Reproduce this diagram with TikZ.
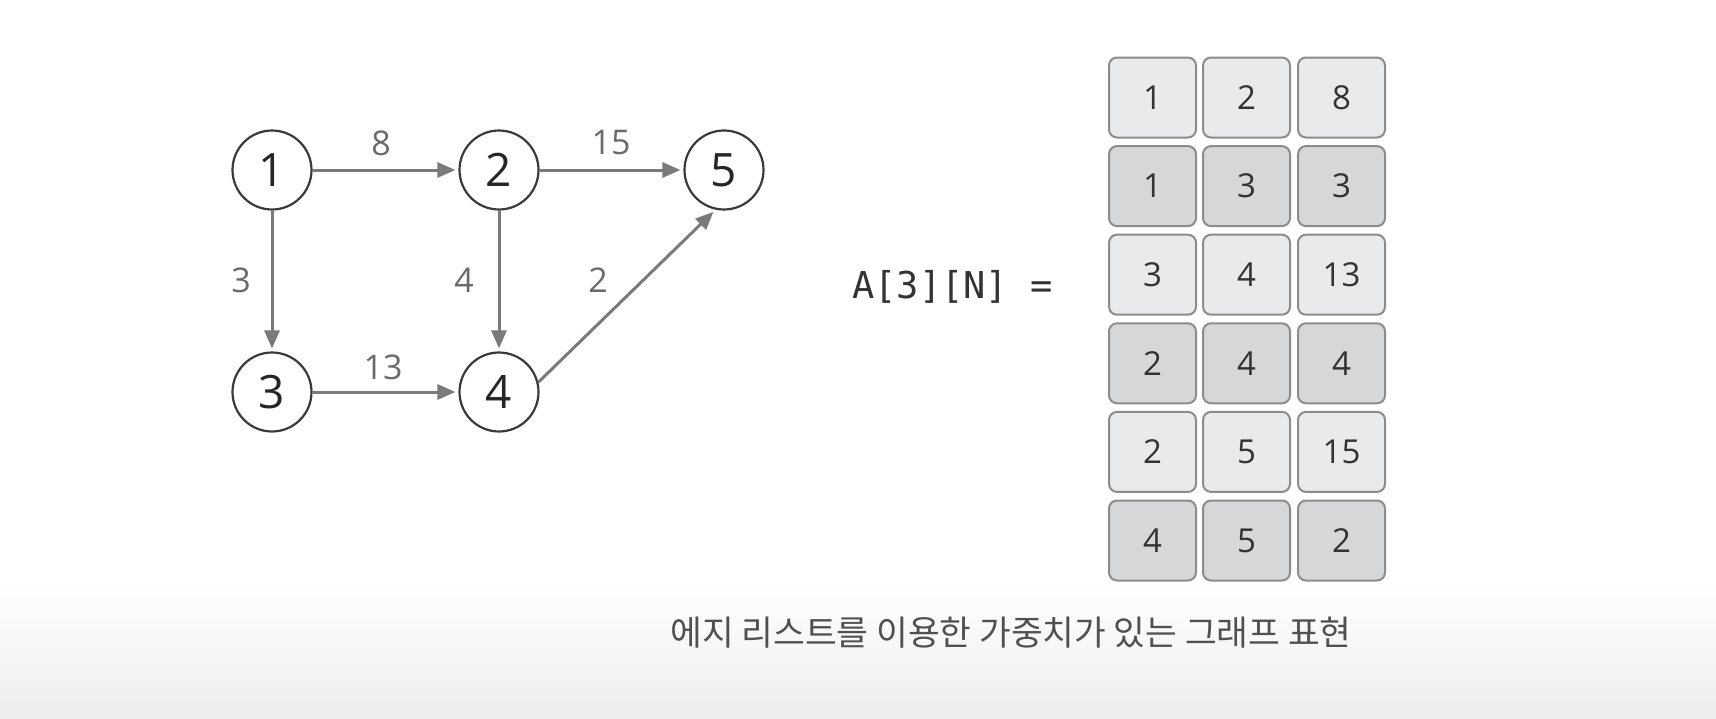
\documentclass[tikz,border=0pt]{standalone}
\usepackage{fontspec}
\setmainfont{Open Sans}
\newfontfamily\monof{DejaVu Sans Mono}
\newfontfamily\krf{Noto Sans CJK KR}
\usetikzlibrary{arrows.meta}
\definecolor{edgegray}{HTML}{7A7A7A}
\definecolor{labgray}{HTML}{6A6A6A}
\definecolor{nodeline}{HTML}{3A3A3A}
\definecolor{celllight}{HTML}{E9EAEB}
\definecolor{celldark}{HTML}{D6D7D9}
\definecolor{cellline}{HTML}{8C8C8C}
\definecolor{celltext}{HTML}{333333}
\definecolor{captext}{HTML}{505050}
\tikzset{
  vert/.style={circle, draw=nodeline, line width=2.2pt, minimum size=79pt, inner sep=0pt,
    font=\fontsize{46}{47}\selectfont, text=black!85},
  wedge/.style={draw=edgegray, line width=3pt, -{Triangle[length=18pt,width=15pt]}, shorten >=3pt},
  wlabel/.style={text=labgray, font=\fontsize{34}{35}\selectfont, inner sep=0pt},
  cellbox/.style={draw=cellline, line width=2pt, rounded corners=8pt, minimum width=87pt,
    minimum height=80pt, inner sep=0pt, text=celltext, font=\fontsize{33}{34}\selectfont},
}
\begin{document}
\begin{tikzpicture}[x=1pt,y=-1pt]
\useasboundingbox (0,0) rectangle (1716,718);
\shade[top color=white, bottom color=black!7] (0,585) rectangle (1716,718);
% graph
\node[vert] (n1) at (272,170) {1};
\node[vert] (n2) at (499,170) {2};
\node[vert] (n5) at (724,170) {5};
\node[vert] (n3) at (272,392) {3};
\node[vert] (n4) at (499,392) {4};
\draw[wedge] (n1) -- (n2);
\draw[wedge] (n2) -- (n5);
\draw[wedge] (n1) -- (n3);
\draw[wedge] (n2) -- (n4);
\draw[wedge] (n3) -- (n4);
\draw[wedge] (n4.14) -- (n5.258);
\node[wlabel] (l12) at (381,143) {8};
\node[wlabel] (l25) at (611,143) {15};
\node[wlabel] (l13) at (241,280) {3};
\node[wlabel] (l24) at (464,280) {4};
\node[wlabel] (l45) at (598,280) {2};
\node[wlabel] (l34) at (383,367) {13};
% label
\node[font=\monof\fontsize{37}{38}\selectfont, text=black!80, anchor=west, inner sep=0pt] (arr) at (852,287) {A[3][N] =};
% table
\foreach \r/\a/\b/\c/\col in {1/1/2/8/celllight, 2/1/3/3/celldark, 3/3/4/13/celllight, 4/2/4/4/celldark, 5/2/5/15/celllight, 6/4/5/2/celldark}{
  \node[cellbox, fill=\col] (c\r-1) at (1152.5, {97.5+(\r-1)*88.6}) {\a};
  \node[cellbox, fill=\col] (c\r-2) at (1246.5, {97.5+(\r-1)*88.6}) {\b};
  \node[cellbox, fill=\col] (c\r-3) at (1341.5, {97.5+(\r-1)*88.6}) {\c};
}
% caption
\node[font=\krf\fontsize{34.5}{35}\selectfont, text=captext, inner sep=0pt] (cap) at (1011,633) {에지 리스트를 이용한 가중치가 있는 그래프 표현};
\end{tikzpicture}
\end{document}
